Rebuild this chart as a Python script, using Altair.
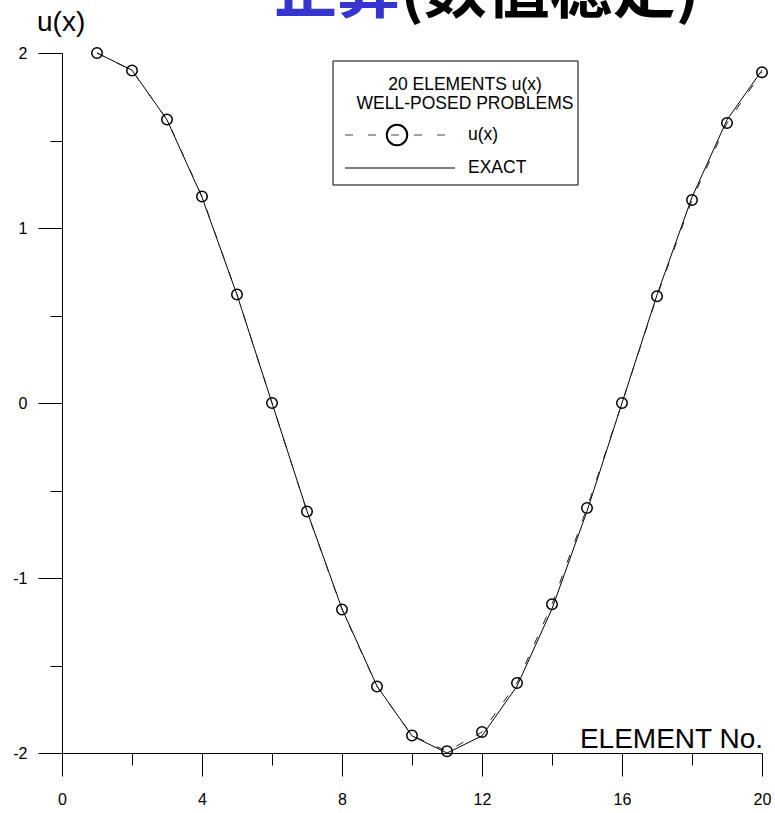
import altair as alt
import pandas as pd

# ---------------- data ----------------
elements = list(range(1, 21))
u_numeric = [2.00, 1.90, 1.62, 1.18, 0.62, 0.00, -0.62, -1.18, -1.62, -1.90,
             -1.99, -1.88, -1.60, -1.15, -0.60, 0.00, 0.61, 1.16, 1.60, 1.89]
u_exact = [2.000, 1.902, 1.618, 1.176, 0.618, 0.000, -0.618, -1.176, -1.618, -1.902,
           -2.000, -1.902, -1.618, -1.176, -0.618, 0.000, 0.618, 1.176, 1.618, 1.902]

x_major = [0, 4, 8, 12, 16, 20]
x_minor = [2, 6, 10, 14, 18]
y_major = [-2, -1, 0, 1, 2]
y_minor = [-1.5, -0.5, 0.5, 1.5]

title_blue = "正算"
title_black = "(数值稳定)"
y_title = "u(x)"
x_title = "ELEMENT No."
legend_line1 = "20 ELEMENTS u(x)"
legend_line2 = "WELL-POSED PROBLEMS"
legend_num = "u(x)"
legend_exact = "EXACT"

df = pd.DataFrame({"element": elements, "num": u_numeric, "exact": u_exact})
one = pd.DataFrame({"k": [0]})

FONT = "Liberation Sans"
xs = alt.Scale(domain=[0, 20], nice=False, zero=False)
ys = alt.Scale(domain=[-2, 2], nice=False, zero=False)

LABEL_EXPR = "datum.value < 0 ? '-' + format(abs(datum.value), 'd') : format(datum.value, 'd')"


def ax(values, size, labels=True, domain=True, orient="bottom", pad=12):
    kw = dict(values=values, tickSize=size, labels=labels, domain=domain, grid=False,
              title=None, orient=orient, tickColor="black", domainColor="black",
              tickWidth=1, domainWidth=1)
    if labels:
        kw.update(labelFont=FONT, labelFontSize=16, labelColor="black",
                  labelPadding=pad, labelFlush=False, labelExpr=LABEL_EXPR,
                  labelOverlap=False)
    return alt.Axis(**kw)


base = alt.Chart(df)

exact_line = base.mark_line(color="black", strokeWidth=1).encode(
    x=alt.X("element:Q", scale=xs, axis=ax(x_major, 23, orient="bottom", pad=15)),
    y=alt.Y("exact:Q", scale=ys, axis=ax(y_major, 24, orient="left", pad=11)),
)

minor = base.mark_point(opacity=0).encode(
    x=alt.X("element:Q", scale=xs, axis=ax(x_minor, 12, labels=False, domain=False, orient="bottom")),
    y=alt.Y("exact:Q", scale=ys, axis=ax(y_minor, 12, labels=False, domain=False, orient="left")),
)

num_line = base.mark_line(color="#222222", strokeWidth=1, strokeDash=[8, 14]).encode(
    x=alt.X("element:Q", scale=xs, axis=None),
    y=alt.Y("num:Q", scale=ys, axis=None),
)

num_pts = base.mark_point(shape="circle", size=110, filled=False, color="black",
                          strokeWidth=1.5, opacity=1).encode(
    x=alt.X("element:Q", scale=xs, axis=None),
    y=alt.Y("num:Q", scale=ys, axis=None),
)


def txt(s, x, y, size, align="left", baseline="alphabetic", color="black", weight="normal", font=FONT):
    return alt.Chart(one).mark_text(text=s, align=align, baseline=baseline, fontSize=size,
                                    color=color, fontWeight=weight, font=font).encode(
        x=alt.value(x), y=alt.value(y))


title1 = txt(title_blue, 338, -41, 63, align="right", color="#3535cf", weight="bold",
             font="Noto Sans CJK SC")
title2 = txt(title_black, 338, -41, 63, align="left", color="black", weight="bold",
             font="Noto Sans CJK SC")
ytitle = txt(y_title, -25, -22, 28, align="left")
xtitle = txt(x_title, 701, 695, 28, align="right")

leg_box = alt.Chart(one).mark_rect(fill="white", stroke="black", strokeWidth=1).encode(
    x=alt.value(271), x2=alt.value(516), y=alt.value(8), y2=alt.value(132))
leg_t1 = txt(legend_line1, 403, 32, 17.5, align="center", baseline="middle")
leg_t2 = txt(legend_line2, 403, 51, 17.5, align="center", baseline="middle")
leg_dash = alt.Chart(one).mark_rule(color="#444444", strokeWidth=1, strokeDash=[8, 15]).encode(
    x=alt.value(283), x2=alt.value(388), y=alt.value(82))
leg_circ = alt.Chart(one).mark_point(shape="circle", size=420, filled=False, color="black",
                                     strokeWidth=2, opacity=1).encode(
    x=alt.value(335), y=alt.value(82))
leg_t3 = txt(legend_num, 406, 82, 17.5, align="left", baseline="middle")
leg_solid = alt.Chart(one).mark_rule(color="black", strokeWidth=1).encode(
    x=alt.value(283), x2=alt.value(393), y=alt.value(115))
leg_t4 = txt(legend_exact, 406, 115, 17.5, align="left", baseline="middle")

chart = alt.layer(
    minor, exact_line, num_line, num_pts,
    title1, title2, ytitle, xtitle,
    leg_box, leg_t1, leg_t2, leg_dash, leg_circ, leg_t3, leg_solid, leg_t4,
).resolve_axis(x="independent", y="independent").properties(
    width=700, height=700,
    padding={"left": 62, "top": 53, "right": 13, "bottom": 60},
    autosize="none",
    background="white",
).configure_view(stroke=None)

chart.save("out.html", embed_options={"renderer": "svg", "actions": False})
